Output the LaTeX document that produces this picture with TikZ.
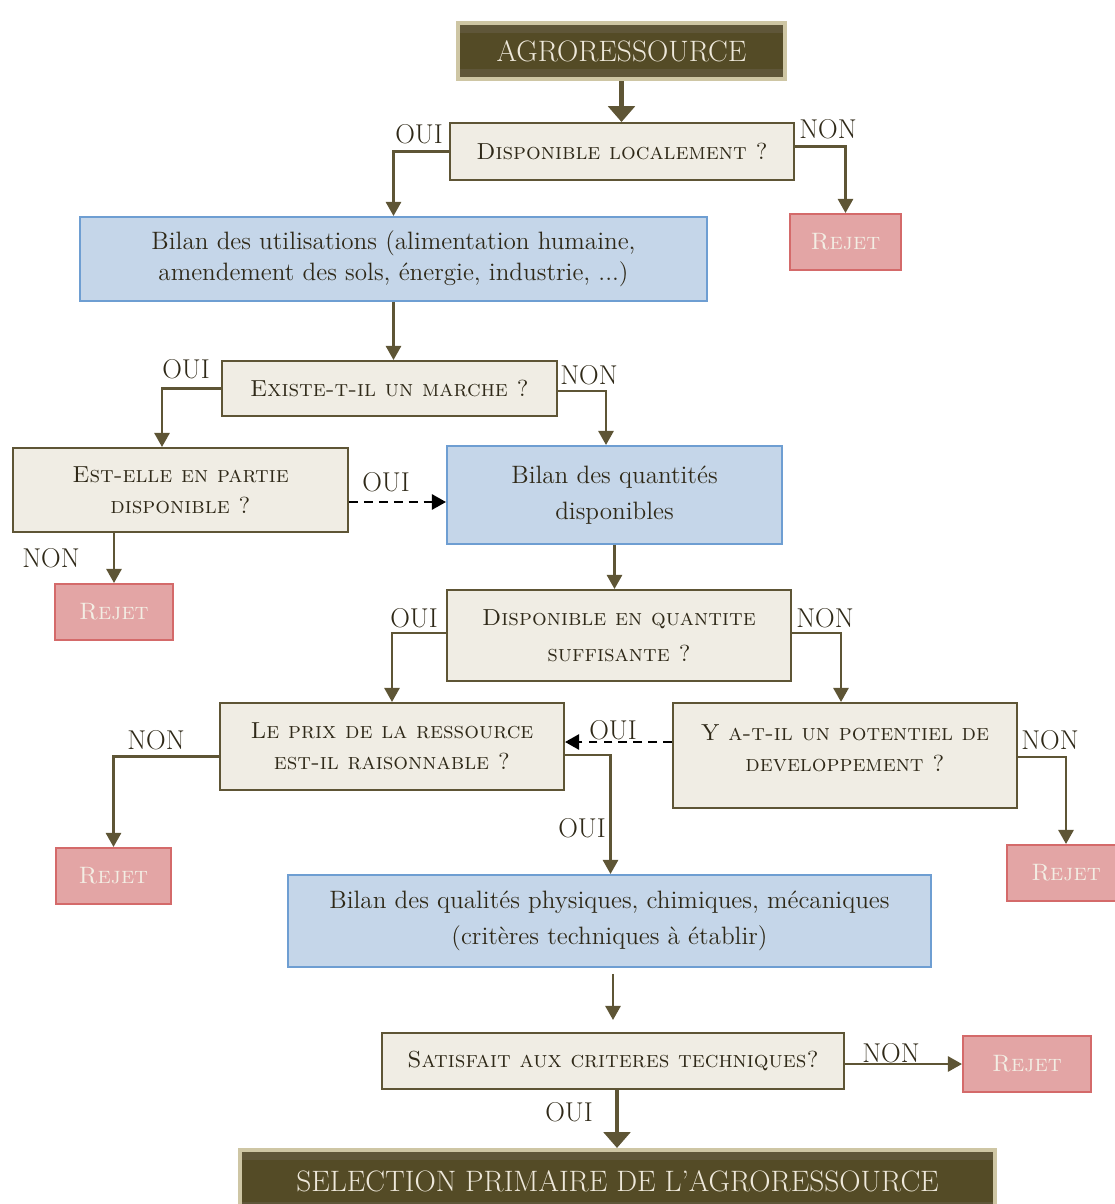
\documentclass[tikz,border=0pt]{standalone}
\usepackage{tikz}
\usetikzlibrary{arrows.meta, calc}

\definecolor{boxfill}{HTML}{F0EDE4}
\definecolor{boxline}{HTML}{5E5535}
\definecolor{txtdark}{HTML}{2F2918}
\definecolor{bluefill}{HTML}{C5D6E9}
\definecolor{blueline}{HTML}{6E9ED2}
\definecolor{rejfill}{HTML}{E3A5A5}
\definecolor{rejline}{HTML}{D46A6A}
\definecolor{rejtext}{HTML}{F3EEE4}
\definecolor{agrodark}{HTML}{544B26}
\definecolor{agroband}{HTML}{5F5639}
\definecolor{agrobeige}{HTML}{CEC6A4}
\definecolor{agrotext}{HTML}{EEE8DA}

\tikzset{
  question/.style={draw=boxline, fill=boxfill, line width=1.1pt, text=txtdark, align=center,
    font=\fontsize{13.2}{17.6}\selectfont\scshape, inner sep=0pt},
  qtext/.style={text=txtdark, align=center, font=\fontsize{13.2}{17.6}\selectfont\scshape, inner sep=0pt},
  bilan/.style={draw=blueline, fill=bluefill, line width=1.1pt, text=txtdark, align=center,
    font=\fontsize{14.3}{17.6}\selectfont, inner sep=0pt},
  rejet/.style={draw=rejline, fill=rejfill, line width=1.1pt, text=rejtext,
    font=\fontsize{13.5}{16}\selectfont\scshape, minimum height=1.12cm, inner sep=0pt},
  titlebox/.style={draw=agrobeige, fill=agrodark, line width=2.3pt, text=agrotext,
    font=\fontsize{16.8}{16.8}\selectfont, inner sep=0pt,
    path picture={
      \fill[agroband] (path picture bounding box.north west) rectangle ([yshift=-0.2cm]path picture bounding box.north east);
      \fill[agroband] (path picture bounding box.south west) rectangle ([yshift=0.2cm]path picture bounding box.south east);
    }},
  flow/.style={draw=boxline, line width=1.6pt, -{Triangle[width=8.5pt,length=8pt]}},
  flowbig/.style={draw=boxline, line width=2.8pt, -{Triangle[width=15pt,length=9pt]}},
  flowdash/.style={draw=black, line width=1.6pt, dash pattern=on 5pt off 3.5pt, -{Triangle[width=8.5pt,length=8pt]}},
  lbl/.style={text=txtdark, font=\fontsize{15.5}{15.5}\selectfont, inner sep=0pt}
}

\begin{document}
\begin{tikzpicture}
\useasboundingbox (0,0) rectangle (22.28,-24.08);

\node[titlebox, minimum width=6.54cm, minimum height=1.12cm] (agro) at (12.43,-1.02) {AGRORESSOURCE};
\node[question, minimum width=6.88cm, minimum height=1.14cm] (dispo) at (12.44,-3.03) {Disponible localement ?};
\node[rejet, minimum width=2.22cm] (rej1) at (16.91,-4.84) {Rejet};
\node[bilan, minimum width=12.54cm, minimum height=1.68cm] (util) at (7.87,-5.18)
  {Bilan des utilisations (alimentation humaine,\\amendement des sols, énergie, industrie, ...)};
\node[question, minimum width=6.70cm, minimum height=1.10cm] (marche) at (7.79,-7.77) {Existe-t-il un marche ?};
\node[question, minimum width=6.70cm, minimum height=1.68cm] (partie) at (3.61,-9.80) {Est-elle en partie\\disponible ?};
\node[bilan, minimum width=6.70cm, minimum height=1.96cm] (qte) at (12.29,-9.90) {Bilan des quantités\\[3pt]disponibles};
\node[rejet, minimum width=2.36cm] (rej2) at (2.28,-12.24) {Rejet};
\node[question, minimum width=6.88cm, minimum height=1.82cm] (suff) at (12.38,-12.71) {Disponible en quantite\\[3pt]suffisante ?};
\node[question, minimum width=6.88cm, minimum height=1.74cm] (prix) at (7.84,-14.93) {Le prix de la ressource\\est-il raisonnable ?};
\node[question, minimum width=6.88cm, minimum height=2.10cm] (potent) at (16.90,-15.11) {};
\node[qtext] (potenttxt) at ([yshift=0.14cm]potent.center) {Y a-t-il un potentiel de\\developpement ?};
\node[rejet, minimum width=2.30cm] (rej3) at (2.27,-17.52) {Rejet};
\node[rejet, minimum width=2.36cm] (rej4) at (21.32,-17.46) {Rejet};
\node[bilan, minimum width=12.86cm, minimum height=1.84cm] (qual) at (12.19,-18.42)
  {Bilan des qualités physiques, chimiques, mécaniques\\[3pt](critères techniques à établir)};
\node[question, minimum width=9.24cm, minimum height=1.12cm] (satis) at (12.26,-21.22) {Satisfait aux criteres techniques?};
\node[rejet, minimum width=2.56cm] (rej5) at (20.54,-21.28) {Rejet};
\node[titlebox, minimum width=15.10cm, minimum height=1.24cm] (select) at (12.35,-23.62) {SELECTION PRIMAIRE DE L’AGRORESSOURCE};

\draw[flowbig] (agro.south) -- (agro.south |- dispo.north);
\draw[flow] (dispo.west) -| (util.north);
\draw[flow] ([yshift=0.1cm]dispo.east) -| (rej1.north);
\draw[flow] (util.south) -- (util.south |- marche.north);
\draw[flow] (marche.west) -| ([xshift=-0.37cm]partie.north);
\draw[flow] ([yshift=-0.05cm]marche.east) -| ([xshift=-0.17cm]qte.north);
\draw[flowdash] ([yshift=-0.24cm]partie.east) -- ([yshift=-0.24cm]partie.east -| qte.west);
\draw[flow] (rej2.north |- partie.south) -- (rej2.north);
\draw[flow] (qte.south) -- (qte.south |- suff.north);
\draw[flow] ([yshift=0.05cm]suff.west) -| (prix.north);
\draw[flow] ([yshift=0.05cm]suff.east) -| ([xshift=-0.08cm]potent.north);
\draw[flowdash] ([yshift=0.09cm]potent.west |- prix.east) -- ([yshift=0.09cm]prix.east);
\draw[flow] ([yshift=-0.2cm]prix.west) -| (rej3.north);
\draw[flow] ([yshift=-0.17cm]prix.east) -| ([xshift=0.02cm]qual.north);
\draw[flow] ([yshift=-0.03cm]potent.east) -| (rej4.north);
\draw[flow] ([yshift=-0.12cm]qual.south -| satis.north) -- ([yshift=0.24cm]satis.north);
\draw[flow] (satis.east |- rej5.west) -- (rej5.west);
\draw[flowbig] ([xshift=0.08cm]satis.south) -- ([xshift=0.08cm]satis.south |- select.north);

\node[lbl] (oui1) at (8.38,-2.68) {OUI};
\node[lbl] (non1) at (16.56,-2.58) {NON};
\node[lbl] (oui2) at (3.72,-7.38) {OUI};
\node[lbl] (non2) at (11.78,-7.50) {NON};
\node[lbl] (oui3) at (7.72,-9.64) {OUI};
\node[lbl] (non3) at (1.02,-11.16) {NON};
\node[lbl] (oui4) at (8.28,-12.36) {OUI};
\node[lbl] (non4) at (16.50,-12.36) {NON};
\node[lbl] (oui5) at (12.26,-14.60) {OUI};
\node[lbl] (non5) at (3.12,-14.80) {NON};
\node[lbl] (non6) at (21.00,-14.80) {NON};
\node[lbl] (oui6) at (11.64,-16.56) {OUI};
\node[lbl] (non7) at (17.82,-21.06) {NON};
\node[lbl] (oui7) at (11.38,-22.24) {OUI};
\end{tikzpicture}
\end{document}
